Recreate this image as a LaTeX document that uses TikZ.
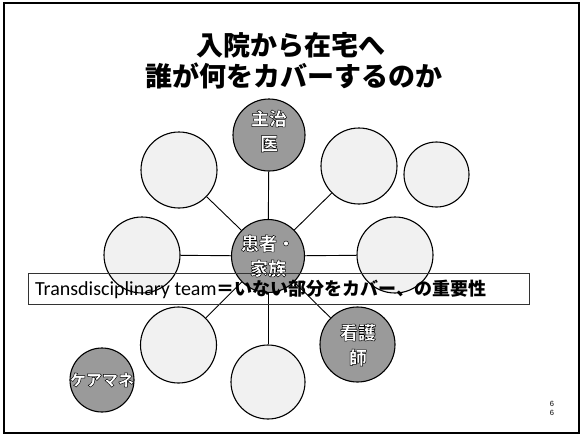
\documentclass[tikz,border=0pt]{standalone}
\usepackage{fontspec}
\newfontfamily\jpfont{Noto Sans CJK JP}
\newfontfamily\calfont{Carlito}
\newfontfamily\arialfont{Liberation Sans}
\newcommand\outlined[1]{\special{pdf:code 0 G 0.45 w 2 Tr}#1\special{pdf:code 0 Tr}}
\definecolor{dotgray}{HTML}{9A9A9A}
\definecolor{palegray}{HTML}{F1F1F1}
\begin{document}
\begin{tikzpicture}[x=1pt,y=-1pt,
  whitecirc/.style={circle,draw=black,line width=1.1pt,fill=palegray,inner sep=0pt,minimum size=#1*2pt},
  graycirc/.style={circle,draw=black,line width=1.1pt,fill=dotgray,inner sep=0pt,minimum size=#1*2pt},
  clabel/.style={font=\jpfont\bfseries\fontsize{18}{25}\selectfont,text=white,align=center,inner sep=0pt},
  link/.style={line width=0.9pt,black},
  titletext/.style={font=\jpfont\bfseries\fontsize{27}{31}\selectfont,inner sep=0pt}]
\useasboundingbox (0,0) rectangle (583,437);
\fill[white] (0,0) rectangle (583,437);
\draw[line width=2pt] (4,3) rectangle (579,433);

% title
\node[titletext] (t1) at (291,45) {入院から在宅へ};
\node[titletext] (t2) at (294,76) {誰が何をカバーするのか};

% circles
\node[graycirc=36] (top) at (269,135) {};
\node[whitecirc=38] (ur) at (359,166) {};
\node[whitecirc=32.5] (fr) at (436.5,174.5) {};
\node[whitecirc=38] (ul) at (179,170) {};
\node[whitecirc=38] (l) at (142,255) {};
\node[whitecirc=38] (r) at (395,255) {};
\node[graycirc=36.5] (c) at (268,256) {};
\node[whitecirc=38] (ll) at (178.5,345) {};
\node[whitecirc=37] (b) at (268,382) {};
\node[graycirc=37.5] (nurse) at (357.5,344.5) {};
\node[graycirc=32] (cm) at (102,380) {};

% connectors
\draw[link] (c) -- (top);
\draw[link] (c) -- (ur);
\draw[link] (c) -- (r);
\draw[link] (c) -- (nurse);
\draw[link] (c) -- (b);
\draw[link] (c) -- (ll);
\draw[link] (c) -- (l);
\draw[link] (c) -- (ul);

% circle labels
\node[clabel] (topl) at (269,131) {\outlined{主治\\医}};
\node[clabel] (cl) at (268,256) {\outlined{患者・\\家族}};
\node[clabel] (nl) at (358,345) {\outlined{看護\\師}};
\node[clabel,font=\jpfont\bfseries\fontsize{16}{20}\selectfont] (cml) at (102,380) {\outlined{ケアマネ}};

% text box
\node[draw=black!80,line width=0.7pt,minimum width=501pt,minimum height=31pt,inner sep=0pt] (box) at (278.5,288.5) {};
\node[anchor=west,inner sep=0pt] (boxtext) at (35,289)
  {\calfont\fontsize{20}{22}\selectfont Transdisciplinary team\jpfont\bfseries\fontsize{18}{20}\selectfont ＝いない部分をカバー、の重要性};

% page number
\node[font=\arialfont\fontsize{7.5}{9}\selectfont,align=center,inner sep=0pt] (pg) at (552,408.5) {6\\6};
\end{tikzpicture}
\end{document}
